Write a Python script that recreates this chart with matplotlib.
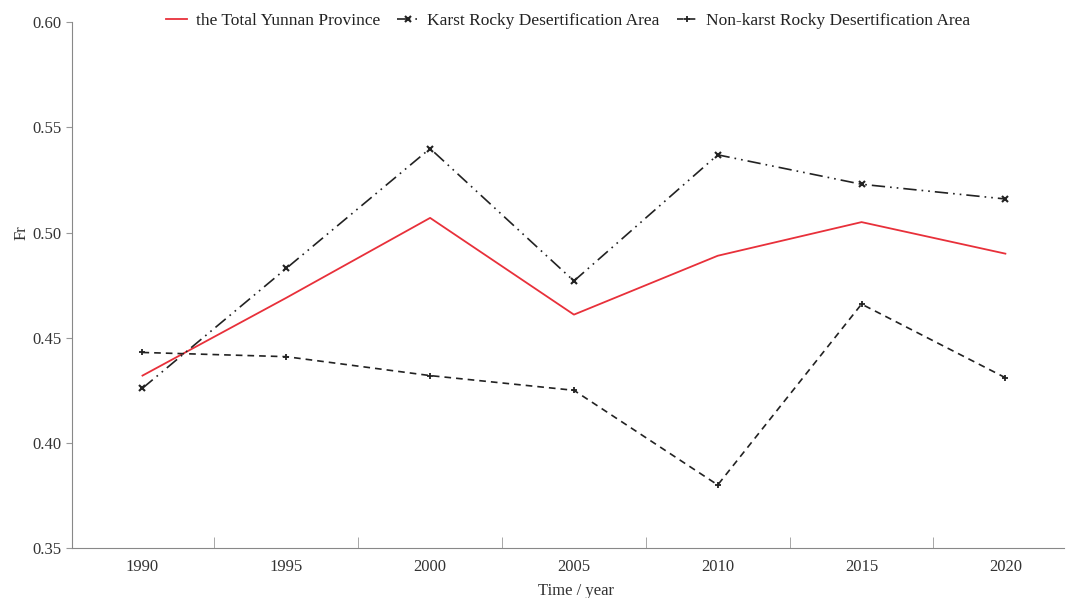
import matplotlib.pyplot as plt
import numpy as np

years = ["1990", "1995", "2000", "2005", "2010", "2015", "2020"]
total_yunnan = [0.432, 0.469, 0.507, 0.461, 0.489, 0.505, 0.490]
karst = [0.426, 0.483, 0.540, 0.477, 0.537, 0.523, 0.516]
non_karst = [0.443, 0.441, 0.432, 0.425, 0.380, 0.466, 0.431]

plt.rcParams['font.family'] = ['Liberation Serif', 'DejaVu Serif']

fig = plt.figure(figsize=(10.67, 5.98), dpi=100)
ax = fig.add_axes([0.0675, 0.0836, 0.93, 0.879])

x = np.arange(len(years))
ax.plot(x, total_yunnan, color="#e8303a", lw=1.3, label="the Total Yunnan Province")
ax.plot(x, karst, color="#222222", lw=1.2, ls=(0, (8, 3, 1, 3, 1, 3)),
        marker="x", ms=4, mew=1.5, label="Karst Rocky Desertification Area")
ax.plot(x, non_karst, color="#222222", lw=1.2, ls=(0, (4, 3)),
        marker="+", ms=4, mew=1.3, label="Non-karst Rocky Desertification Area")

ax.set_ylim(0.35, 0.60)
ax.set_yticks([0.35, 0.40, 0.45, 0.50, 0.55, 0.60])
ax.set_yticklabels([f"{v:.2f}" for v in [0.35, 0.40, 0.45, 0.50, 0.55, 0.60]])
ax.set_xlim(-0.49, 6.41)

# labels at categories, tick marks between them
ax.set_xticks(x)
ax.set_xticklabels(years)
ax.tick_params(axis="x", which="major", length=0, pad=8, labelsize=12, labelcolor="#333333")
ax.set_xticks(x[:-1] + 0.5, minor=True)
ax.tick_params(axis="x", which="minor", direction="in", length=8, color="#999999")
ax.tick_params(axis="y", direction="out", length=4, color="#999999", labelsize=12,
               labelcolor="#333333")

for s in ["top", "right"]:
    ax.spines[s].set_visible(False)
for s in ["left", "bottom"]:
    ax.spines[s].set_color("#888888")

ax.set_xlabel("Time / year", fontsize=12, color="#333333")
ax.xaxis.set_label_coords(0.508, -0.066, transform=ax.transAxes)
ax.xaxis.label.set_va("top")
ax.set_ylabel("Fr", fontsize=12, color="#333333")
ax.yaxis.set_label_coords(-0.043, 0.6)

ax.legend(loc="upper center", bbox_to_anchor=(0.5, 1.047), ncol=3, frameon=False,
          fontsize=12.5, handlelength=1.2, handletextpad=0.5, columnspacing=1.0,
          labelcolor="#222222")

fig.savefig("out.png", dpi=100)
